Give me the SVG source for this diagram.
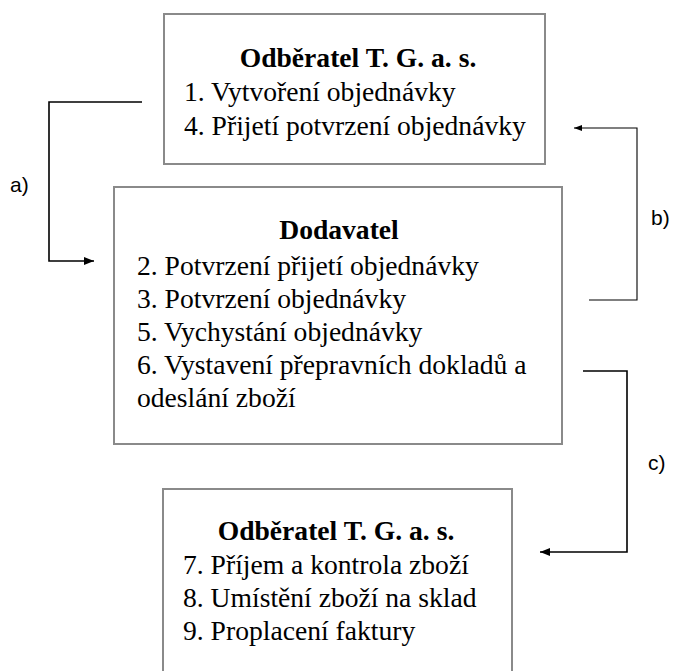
<svg xmlns="http://www.w3.org/2000/svg" width="683" height="671" viewBox="0 0 683 671">
<defs>
<style>
.box{fill:#ffffff;stroke:#8a8a8a;stroke-width:2}
.t{font-family:"Liberation Serif","Times New Roman",serif;font-size:27.6px;fill:#000}
.h{font-weight:bold;text-anchor:middle}
.lbl{font-family:"Liberation Sans",Arial,sans-serif;font-size:21px;fill:#000}
.con{fill:none;stroke:#000;stroke-width:1.6}
.con2{fill:none;stroke:#000;stroke-width:1.1}
</style>
<marker id="ah" viewBox="0 0 10 8" refX="10" refY="4" markerWidth="10" markerHeight="8" markerUnits="userSpaceOnUse" orient="auto">
<path d="M0,0 L10,4 L0,8 Z" fill="#000"/>
</marker>
<marker id="ahs" viewBox="0 0 8 6" refX="8" refY="3" markerWidth="8" markerHeight="6" markerUnits="userSpaceOnUse" orient="auto">
<path d="M0,0 L8,3 L0,6 Z" fill="#000"/>
</marker>
</defs>
<rect width="683" height="671" fill="#ffffff"/>
<g id="odberatel1">
<rect class="box" x="164" y="14" width="381" height="150"/>
<text class="t h" x="358" y="67">Odběratel T. G. a. s.</text>
<text class="t" x="184" y="101">1. Vytvoření objednávky</text>
<text class="t" x="184" y="135">4. Přijetí potvrzení objednávky</text>
</g>
<g id="dodavatel">
<rect class="box" x="114" y="187" width="448" height="257"/>
<text class="t h" x="339" y="239">Dodavatel</text>
<text class="t" x="137" y="275">2. Potvrzení přijetí objednávky</text>
<text class="t" x="137" y="308">3. Potvrzení objednávky</text>
<text class="t" x="137" y="341">5. Vychystání objednávky</text>
<text class="t" x="137" y="374">6. Vystavení přepravních dokladů a</text>
<text class="t" x="137" y="407">odeslání zboží</text>
</g>
<g id="odberatel2">
<rect class="box" x="163" y="489" width="349" height="200"/>
<text class="t h" x="336" y="540">Odběratel T. G. a. s.</text>
<text class="t" x="183" y="574">7. Příjem a kontrola zboží</text>
<text class="t" x="183" y="607">8. Umístění zboží na sklad</text>
<text class="t" x="183" y="640">9. Proplacení faktury</text>
</g>
<g id="connectors">
<path class="con" d="M142,102 H49 V261 H94" marker-end="url(#ah)"/>
<path class="con2" d="M589,300 H637 V128 H574" marker-end="url(#ahs)"/>
<path class="con" d="M583,371 H627 V552 H540" marker-end="url(#ah)"/>
<text class="lbl" x="10" y="192">a)</text>
<text class="lbl" x="651" y="225">b)</text>
<text class="lbl" x="648" y="470">c)</text>
</g>
</svg>
